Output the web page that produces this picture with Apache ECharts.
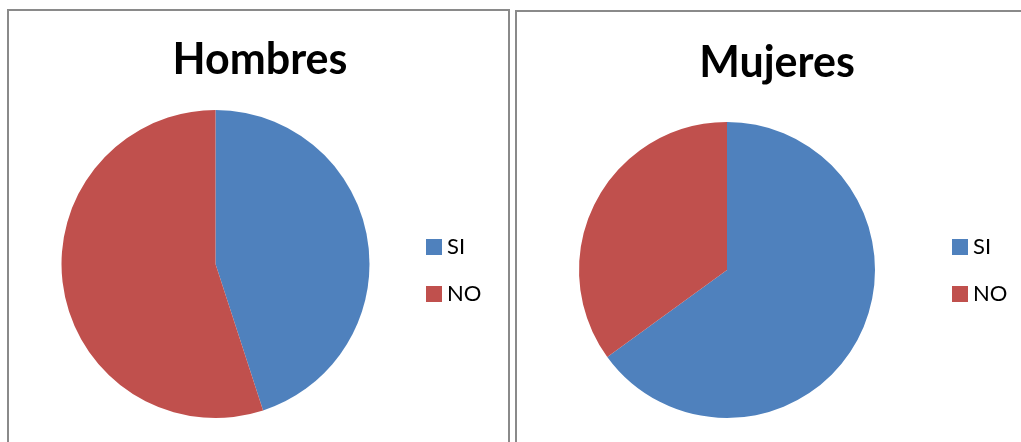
<!DOCTYPE html>
<html>
<head>
<meta charset="utf-8">
<style>
  html, body { margin: 0; padding: 0; background: #ffffff; }
  #chart { width: 1021px; height: 442px; }
</style>
<script src="https://cdn.jsdelivr.net/npm/echarts@6/dist/echarts.min.js"></script>
</head>
<body>
<div id="chart"></div>
<script>
// Answers by group
const categories = ['SI', 'NO'];
const hombres = [45, 55];
const mujeres = [65, 35];
const groupTitles = ['Hombres', 'Mujeres'];
const palette = ['#4F81BD', '#C0504D'];

const chart = echarts.init(document.getElementById('chart'), null, { renderer: 'canvas' });

const fontFamily = 'Lato, "Open Sans", sans-serif';

function toData(values) {
  return categories.map((name, i) => ({ name: name, value: values[i] }));
}

function legendFor(id, left) {
  return {
    id: id,
    orient: 'vertical',
    left: left,
    top: 236,
    padding: 0,
    itemWidth: 16,
    itemHeight: 16,
    itemGap: 25,
    icon: 'rect',
    selectedMode: false,
    textStyle: { fontFamily: fontFamily, fontSize: 22, color: '#000' },
    data: categories
  };
}

const pieBase = {
  type: 'pie',
  startAngle: 90,
  clockwise: true,
  label: { show: false },
  labelLine: { show: false },
  emphasis: { disabled: true },
  itemStyle: { borderWidth: 0 },
  silent: true
};

chart.setOption({
  animation: false,
  color: palette,
  graphic: [
    { type: 'rect', shape: { x: 8, y: 10, width: 501, height: 440 },
      style: { fill: 'none', stroke: '#8a8a8a', lineWidth: 2 } },
    { type: 'rect', shape: { x: 516, y: 11, width: 520, height: 440 },
      style: { fill: 'none', stroke: '#8a8a8a', lineWidth: 2 } }
  ],
  title: [
    { text: groupTitles[0], left: 255, top: 34, textAlign: 'center',
      textStyle: { fontFamily: fontFamily, fontWeight: 'bold', fontSize: 43, color: '#000' } },
    { text: groupTitles[1], left: 772, top: 37, textAlign: 'center',
      textStyle: { fontFamily: fontFamily, fontWeight: 'bold', fontSize: 43, color: '#000' } }
  ],
  legend: [legendFor('l1', 426), legendFor('l2', 952)],
  series: [
    Object.assign({}, pieBase, {
      name: groupTitles[0],
      center: [215.5, 264],
      radius: 154,
      data: toData(hombres)
    }),
    Object.assign({}, pieBase, {
      name: groupTitles[1],
      center: [727, 270],
      radius: 148,
      data: toData(mujeres)
    })
  ]
});
</script>
</body>
</html>
